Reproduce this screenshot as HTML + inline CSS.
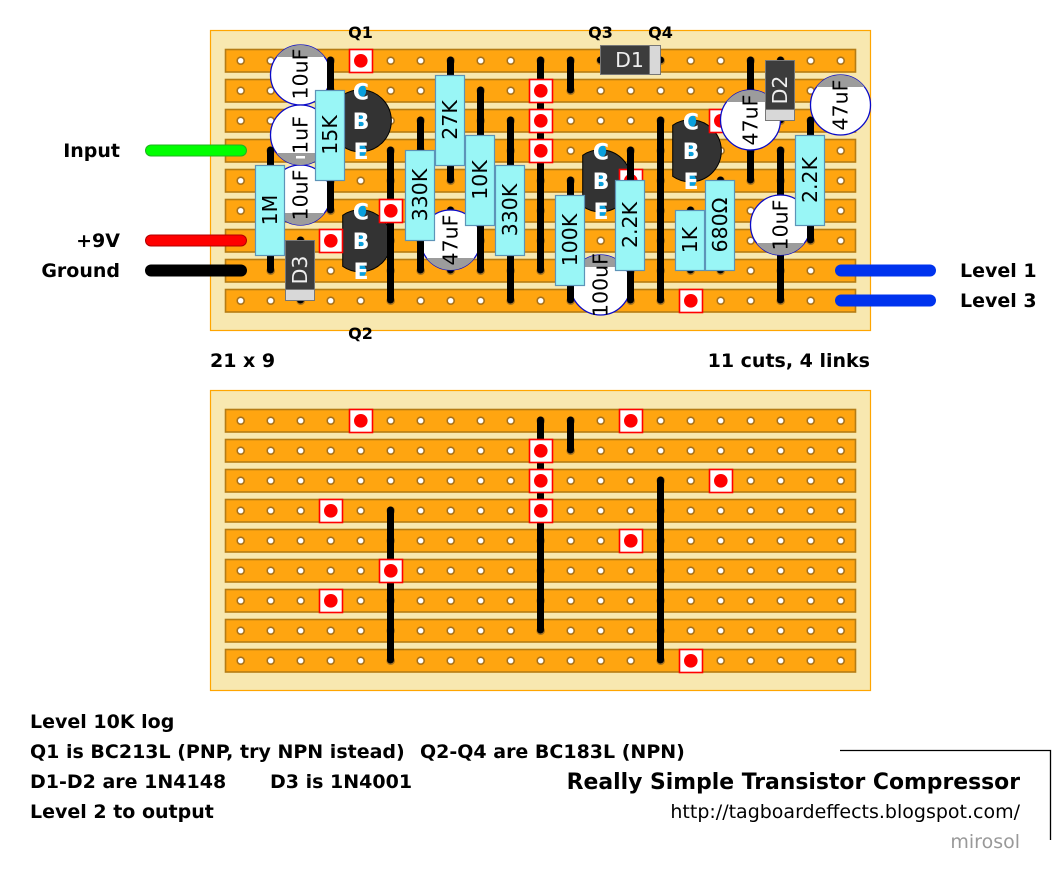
<!DOCTYPE html>
<html><head><meta charset="utf-8"><style>
html,body{margin:0;padding:0;background:#fff}
svg{display:block}
text{font-family:"DejaVu Sans",sans-serif}
.b{font-weight:bold}
.link path,.link line{stroke:#000;stroke-width:7;stroke-linecap:round}
.rt{font-size:20.5px;text-anchor:middle;fill:#000}
.res{fill:#99f6f6;stroke:#5d94b8;stroke-width:1.2}
.cap{fill:#fff;stroke:#0a0ac8;stroke-width:1.3}
.cut{fill:#fff;stroke:#f00;stroke-width:1.6}
.lab{font-size:19px;font-weight:bold;fill:#000}
.cbe{font-size:22px;font-weight:bold;fill:#fff;text-anchor:middle}
</style></head><body>
<svg width="1062" height="884" viewBox="0 0 1062 884" xmlns="http://www.w3.org/2000/svg">
<defs>
<pattern id="h" patternUnits="userSpaceOnUse" x="225" y="45" width="30" height="30">
<circle cx="15.7" cy="15.7" r="3.5" fill="#fff" stroke="#a8721c" stroke-width="1.6"/>
</pattern>
<g id="board">
<rect x="210.5" y="30.5" width="660" height="300" fill="#f8e8b0" stroke="#ffa500" stroke-width="1.2"/>
<g fill="#ffa510" stroke="#b57c14" stroke-width="1.6">
<rect x="225.500" y="49.500" width="630" height="22.500"/>
<rect x="225.500" y="79.500" width="630" height="22.500"/>
<rect x="225.500" y="109.500" width="630" height="22.500"/>
<rect x="225.500" y="139.500" width="630" height="22.500"/>
<rect x="225.500" y="169.500" width="630" height="22.500"/>
<rect x="225.500" y="199.500" width="630" height="22.500"/>
<rect x="225.500" y="229.500" width="630" height="22.500"/>
<rect x="225.500" y="259.500" width="630" height="22.500"/>
<rect x="225.500" y="289.500" width="630" height="22.500"/>
</g>
<rect x="225" y="45" width="631" height="271" fill="url(#h)"/>
</g>
<g id="cuts">
<g class="cut">
<rect x="349.500" y="49.500" width="23" height="23"/><rect x="619.500" y="49.500" width="23" height="23"/>
<rect x="529.500" y="79.500" width="23" height="23"/><rect x="529.500" y="109.500" width="23" height="23"/>
<rect x="709.500" y="109.500" width="23" height="23"/><rect x="319.500" y="139.500" width="23" height="23"/>
<rect x="529.500" y="139.500" width="23" height="23"/><rect x="619.500" y="169.500" width="23" height="23"/>
<rect x="379.500" y="199.500" width="23" height="23"/><rect x="319.500" y="229.500" width="23" height="23"/>
<rect x="679.500" y="289.500" width="23" height="23"/>
</g>
<g fill="#f00">
<circle cx="360.800" cy="60.800" r="6.800"/><circle cx="630.800" cy="60.800" r="6.800"/>
<circle cx="540.800" cy="90.800" r="6.800"/><circle cx="540.800" cy="120.800" r="6.800"/>
<circle cx="720.800" cy="120.800" r="6.800"/><circle cx="330.800" cy="150.800" r="6.800"/>
<circle cx="540.800" cy="150.800" r="6.800"/><circle cx="630.800" cy="180.800" r="6.800"/>
<circle cx="390.800" cy="210.800" r="6.800"/><circle cx="330.800" cy="240.800" r="6.800"/>
<circle cx="690.800" cy="300.800" r="6.800"/>
</g>
</g>
<g id="q">
<path d="M-18,-25.500 A31,31 0 1 1 -18,25.500 Z" fill="#333" stroke="#000" stroke-width="1"/>
<ellipse cx="1.500" cy="-30" rx="4" ry="6" fill="#0a9fdc"/><ellipse cx="1.500" cy="0" rx="4" ry="6" fill="#0a9fdc"/><ellipse cx="1.500" cy="30" rx="4" ry="6" fill="#0a9fdc"/>
<text class="cbe" x="0.300" y="-21.500">C</text><text class="cbe" x="0.300" y="8">B</text><text class="cbe" x="0.300" y="38">E</text>
</g>
<clipPath id="c1"><circle cx="300.500" cy="75" r="30"/></clipPath>
<clipPath id="c2"><circle cx="300.500" cy="135" r="30"/></clipPath>
<clipPath id="c3"><circle cx="300.500" cy="195" r="30"/></clipPath>
<clipPath id="c4"><circle cx="450.500" cy="240" r="30"/></clipPath>
<clipPath id="c5"><circle cx="600.500" cy="285" r="30"/></clipPath>
<clipPath id="c6"><circle cx="750.500" cy="120" r="30"/></clipPath>
<clipPath id="c7"><circle cx="840.500" cy="105" r="30"/></clipPath>
<clipPath id="c8"><circle cx="780.500" cy="225" r="30"/></clipPath>
</defs>

<!-- top board -->
<use href="#board"/>

<!-- leads under caps -->
<g class="link">
<line x1="450.500" y1="210" x2="450.500" y2="270"/>
<line x1="780.500" y1="150" x2="780.500" y2="300"/>
</g>

<!-- capacitors -->
<circle class="cap" cx="300.500" cy="75" r="30"/><rect x="270" y="45" width="61" height="12" fill="#9c9c9c" clip-path="url(#c1)"/>
<circle class="cap" cx="300.500" cy="195" r="30"/><rect x="270" y="213" width="61" height="12" fill="#9c9c9c" clip-path="url(#c3)"/>
<circle class="cap" cx="300.500" cy="135" r="30"/><rect x="270" y="153" width="61" height="12" fill="#9c9c9c" clip-path="url(#c2)"/>
<rect x="296" y="156" width="9" height="2.500" fill="#fff"/>
<circle class="cap" cx="450.500" cy="240" r="30"/><rect x="420" y="258" width="61" height="12" fill="#9c9c9c" clip-path="url(#c4)"/>
<circle class="cap" cx="600.500" cy="285" r="30"/><rect x="570" y="255" width="61" height="12" fill="#9c9c9c" clip-path="url(#c5)"/>
<circle class="cap" cx="840.500" cy="105" r="30"/><rect x="810" y="75" width="61" height="12" fill="#9c9c9c" clip-path="url(#c7)"/>
<circle class="cap" cx="780.500" cy="225" r="30"/><rect x="750" y="243" width="61" height="12" fill="#9c9c9c" clip-path="url(#c8)"/>
<text class="rt" transform="translate(300.500,74) rotate(-90)" y="7">10uF</text>
<text class="rt" transform="translate(300.500,135) rotate(-90)" y="7">1uF</text>
<text class="rt" transform="translate(300.500,195) rotate(-90)" y="7">10uF</text>
<text class="rt" transform="translate(450.500,240) rotate(-90)" y="7">47uF</text>
<text class="rt" transform="translate(600.500,285) rotate(-90)" y="7">100uF</text>
<text class="rt" transform="translate(840.500,105) rotate(-90)" y="7">47uF</text>
<text class="rt" transform="translate(780.500,225) rotate(-90)" y="7">10uF</text>

<!-- component leads -->
<g class="link">
<line x1="270.500" y1="150" x2="270.500" y2="270"/>
<line x1="300.500" y1="240" x2="300.500" y2="300"/>
<line x1="330.500" y1="60" x2="330.500" y2="210"/>
<line x1="420.500" y1="120" x2="420.500" y2="270"/>
<line x1="450.500" y1="60" x2="450.500" y2="180"/>
<line x1="480.500" y1="90" x2="480.500" y2="270"/>
<line x1="510.500" y1="120" x2="510.500" y2="300"/>
<line x1="570.500" y1="180" x2="570.500" y2="300"/>
<line x1="600.500" y1="60" x2="660.500" y2="60"/>
<line x1="690.500" y1="210" x2="690.500" y2="270"/>
<line x1="720.500" y1="180" x2="720.500" y2="270"/>
<line x1="780.500" y1="60" x2="780.500" y2="120"/>
<line x1="810.500" y1="120" x2="810.500" y2="240"/>
<line x1="750.500" y1="60" x2="750.500" y2="180"/>
</g>

<!-- transistors -->
<use href="#q" x="360.700" y="120.800"/>
<use href="#q" x="360.700" y="240.800"/>
<use href="#q" x="600.700" y="180.800"/>
<use href="#q" x="690.700" y="150.800"/>

<!-- links under cuts -->
<g class="link">
<line x1="390.500" y1="150" x2="390.500" y2="300"/>
<line x1="540.500" y1="60" x2="540.500" y2="270"/>
<line x1="570.500" y1="60" x2="570.500" y2="90"/>
<line x1="660.500" y1="120" x2="660.500" y2="300"/>
</g>
<use href="#cuts"/>

<g class="link"><line x1="630.500" y1="150" x2="630.500" y2="300"/></g>
<circle class="cap" cx="750.500" cy="120" r="30"/><rect x="720" y="90" width="61" height="12" fill="#9c9c9c" clip-path="url(#c6)"/>
<text class="rt" transform="translate(750.500,120) rotate(-90)" y="7">47uF</text>

<!-- resistors -->
<g class="res">
<rect x="315.500" y="90.500" width="29" height="90"/>
<rect x="435.500" y="75.500" width="29" height="90"/>
<rect x="405.500" y="150.500" width="29" height="90"/>
<rect x="465.500" y="135.500" width="29" height="90"/>
<rect x="495.500" y="165.500" width="29" height="90"/>
<rect x="255.500" y="165.500" width="29" height="90"/>
<rect x="555.500" y="195.500" width="29" height="90"/>
<rect x="615.500" y="180.500" width="29" height="90"/>
<rect x="675.500" y="210.500" width="29" height="60"/>
<rect x="705.500" y="180.500" width="29" height="90"/>
<rect x="795.500" y="135.500" width="29" height="90"/>
</g>
<text class="rt" transform="translate(330,135) rotate(-90)" y="7">15K</text>
<text class="rt" transform="translate(450,120) rotate(-90)" y="7">27K</text>
<text class="rt" transform="translate(420,195) rotate(-90)" y="7">330K</text>
<text class="rt" transform="translate(480,180) rotate(-90)" y="7">10K</text>
<text class="rt" transform="translate(510,210) rotate(-90)" y="7">330K</text>
<text class="rt" transform="translate(270,210) rotate(-90)" y="7">1M</text>
<text class="rt" transform="translate(570,240) rotate(-90)" y="7">100K</text>
<text class="rt" transform="translate(630,225) rotate(-90)" y="7">2.2K</text>
<text class="rt" transform="translate(690,240) rotate(-90)" y="7">1K</text>
<text class="rt" transform="translate(720,225) rotate(-90)" y="7">680Ω</text>
<text class="rt" transform="translate(810,180) rotate(-90)" y="7">2.2K</text>

<!-- diodes -->
<g stroke="#777" stroke-width="1">
<rect x="285.500" y="240.500" width="29" height="60" fill="#3c3c3c"/><rect x="285.500" y="289.500" width="29" height="11" fill="#d8d8d8"/>
<rect x="600.500" y="45.500" width="60" height="29" fill="#3c3c3c"/><rect x="649.500" y="45.500" width="11" height="29" fill="#d8d8d8"/>
<rect x="765.500" y="60.500" width="29" height="60" fill="#3c3c3c"/><rect x="765.500" y="109.500" width="29" height="11" fill="#d8d8d8"/>
</g>
<text class="rt" style="fill:#eee" transform="translate(300,270) rotate(-90)" y="7">D3</text>
<text class="rt" style="fill:#eee" x="629.500" y="67">D1</text>
<text class="rt" style="fill:#eee" transform="translate(780,90) rotate(-90)" y="7">D2</text>

<!-- wires -->
<g stroke-linecap="round" fill="none">
<line x1="151" y1="150.500" x2="241" y2="150.500" stroke="#22b022" stroke-width="12"/>
<line x1="151" y1="150.500" x2="241" y2="150.500" stroke="#00ff00" stroke-width="10"/>
<line x1="151" y1="240.500" x2="241" y2="240.500" stroke="#b00000" stroke-width="12"/>
<line x1="151" y1="240.500" x2="241" y2="240.500" stroke="#ff0000" stroke-width="10"/>
<line x1="151" y1="270.500" x2="241" y2="270.500" stroke="#000" stroke-width="12"/>
<line x1="841" y1="270.500" x2="930" y2="270.500" stroke="#0033ee" stroke-width="12"/>
<line x1="841" y1="300.500" x2="930" y2="300.500" stroke="#0033ee" stroke-width="12"/>
</g>

<!-- bottom board -->
<g transform="translate(0,360)">
<use href="#board"/>
<g class="link">
<line x1="390.500" y1="150" x2="390.500" y2="300"/>
<line x1="540.500" y1="60" x2="540.500" y2="270"/>
<line x1="570.500" y1="60" x2="570.500" y2="90"/>
<line x1="660.500" y1="120" x2="660.500" y2="300"/>
</g>
<use href="#cuts"/>
</g>

<!-- labels -->
<g class="b" style="font-size:16px" text-anchor="middle">
<text x="360.500" y="38">Q1</text><text x="360.500" y="339">Q2</text>
<text x="600.500" y="38">Q3</text><text x="660.500" y="38">Q4</text>
</g>
<g class="lab">
<text x="120" y="157" text-anchor="end">Input</text>
<text x="120" y="247" text-anchor="end">+9V</text>
<text x="120" y="277" text-anchor="end">Ground</text>
<text x="960" y="277">Level 1</text>
<text x="960" y="307">Level 3</text>
<text x="210" y="367">21 x 9</text>
<text x="870" y="367" text-anchor="end">11 cuts, 4 links</text>
<text x="30" y="728">Level 10K log</text>
<text x="30" y="758">Q1 is BC213L (PNP, try NPN istead)</text>
<text x="420" y="758">Q2-Q4 are BC183L (NPN)</text>
<text x="30" y="788">D1-D2 are 1N4148</text>
<text x="270" y="788">D3 is 1N4001</text>
<text x="30" y="818">Level 2 to output</text>
</g>
<text class="b" x="1020" y="789" text-anchor="end" style="font-size:21.9px">Really Simple Transistor Compressor</text>
<text x="1020" y="818" text-anchor="end" style="font-size:19px">http://tagboardeffects.blogspot.com/</text>
<text x="1020" y="848" text-anchor="end" style="font-size:19px;fill:#999">mirosol</text>
<path d="M840,750.500 H1050.500 V840" fill="none" stroke="#000" stroke-width="1.300"/>
</svg>
</body></html>
